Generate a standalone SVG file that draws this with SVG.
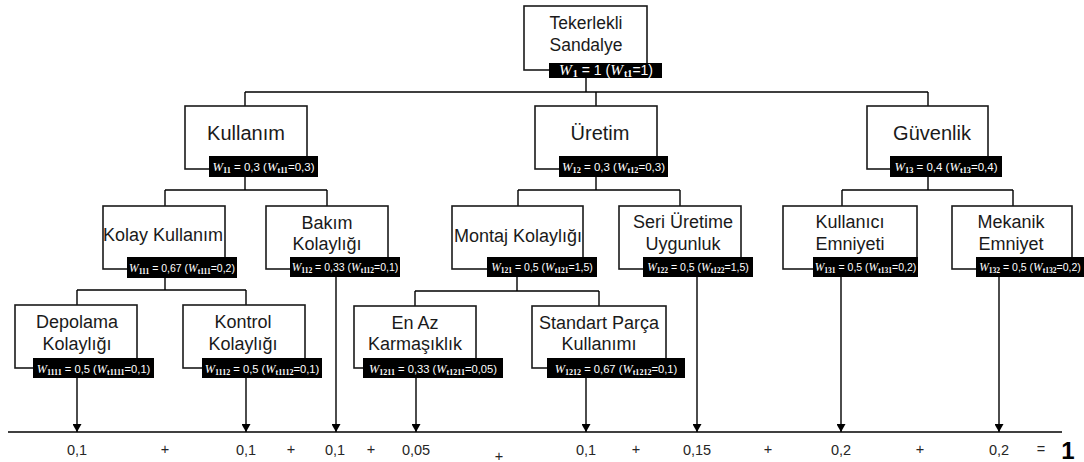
<svg xmlns="http://www.w3.org/2000/svg" width="1084" height="462" viewBox="0 0 1084 462">
<defs>
<marker id="arr" markerUnits="userSpaceOnUse" markerWidth="9" markerHeight="9" refX="8" refY="4.5" orient="auto">
<path d="M0,0 L8,4.5 L0,9 z" fill="#000"/>
</marker>
<style>
.box{fill:#fff;stroke:#1a1a1a;stroke-width:1.6}
.lbl{fill:#000}
.t{font-family:"Liberation Sans",Arial,sans-serif;font-size:18px;fill:#1a1a1a;text-anchor:middle}
.t1{font-size:20px}
.w{font-family:"Liberation Sans",Arial,sans-serif;font-size:10.5px;fill:#fff;text-anchor:middle}
.w0{font-size:14px}
.w1{font-size:11.5px}
.w3{font-size:11.2px}
.i{font-family:"Liberation Serif","Times New Roman",serif;font-style:italic;font-size:1.1em}
.s{font-family:"Liberation Serif","Times New Roman",serif;font-size:0.72em;font-weight:bold}
.c{fill:none;stroke:#000;stroke-width:1.4}
.a{marker-end:url(#arr)}
.n{font-family:"Liberation Sans",Arial,sans-serif;font-size:14.5px;fill:#262626;text-anchor:middle}
</style>
</defs>
<rect width="1084" height="462" fill="#fff"/>

<g id="connectors">
<path class="c" d="M586 77V92M245 92H928M245 92V106M596 92V106M928 92V106"/>
<path class="c" d="M245 177V190M165 190H327M165 190V206M327 190V206"/>
<path class="c" d="M596 177V190M518 190H680M518 190V206M680 190V206"/>
<path class="c" d="M928 177V190M842 190H1013M842 190V206M1013 190V206"/>
<path class="c" d="M165 278V290M77 290H246M77 290V305M246 290V305"/>
<path class="c" d="M517 277V291M415 291H599M415 291V306M599 291V306"/>
<path class="c" d="M8 432H1062"/>
<path class="c a" d="M77 378V432"/>
<path class="c a" d="M246 378V432"/>
<path class="c a" d="M336 277V432"/>
<path class="c a" d="M416 378V432"/>
<path class="c a" d="M586 378V432"/>
<path class="c a" d="M697 277V432"/>
<path class="c a" d="M841 277V432"/>
<path class="c a" d="M999 277V432"/>
</g>

<g id="n0">
<rect class="box" x="524" y="6" width="123" height="64"/>
<text class="t" x="586" y="29" style="font-size:17.5px">Tekerlekli</text>
<text class="t" x="586" y="51" style="font-size:17.5px">Sandalye</text>
<rect class="lbl" x="549" y="63" width="113" height="15"/>
<text class="w w0" x="606" y="74.5"><tspan class="i">W</tspan><tspan class="s" dx="1" dy="2.5">1</tspan><tspan dy="-2.5"> = 1 (</tspan><tspan class="i">W</tspan><tspan class="s" dx="1" dy="2.5">t1</tspan><tspan dy="-2.5">=1)</tspan></text>
</g>

<g id="n1">
<rect class="box" x="185" y="106" width="122" height="63"/>
<text class="t t1" x="246" y="140">Kullanım</text>
<rect class="lbl" x="209" y="156" width="109" height="21"/>
<text class="w w1" x="263.5" y="171"><tspan class="i">W</tspan><tspan class="s" dy="2">11</tspan><tspan dy="-2"> = 0,3 (</tspan><tspan class="i">W</tspan><tspan class="s" dy="2">t11</tspan><tspan dy="-2">=0,3)</tspan></text>
</g>

<g id="n2">
<rect class="box" x="535" y="106" width="122" height="63"/>
<text class="t t1" x="600" y="140">Üretim</text>
<rect class="lbl" x="559" y="156" width="109" height="21"/>
<text class="w w1" x="613.5" y="171"><tspan class="i">W</tspan><tspan class="s" dy="2">12</tspan><tspan dy="-2"> = 0,3 (</tspan><tspan class="i">W</tspan><tspan class="s" dy="2">t12</tspan><tspan dy="-2">=0,3)</tspan></text>
</g>

<g id="n3">
<rect class="box" x="867" y="106" width="121" height="63"/>
<text class="t t1" x="932" y="140">Güvenlik</text>
<rect class="lbl" x="890" y="156" width="112" height="21"/>
<text class="w w1" x="946" y="171"><tspan class="i">W</tspan><tspan class="s" dy="2">13</tspan><tspan dy="-2"> = 0,4 (</tspan><tspan class="i">W</tspan><tspan class="s" dy="2">t13</tspan><tspan dy="-2">=0,4)</tspan></text>
</g>

<g id="n11">
<rect class="box" x="103" y="206" width="122" height="63"/>
<text class="t" x="163" y="241">Kolay Kullanım</text>
<rect class="lbl" x="127" y="257" width="110" height="21"/>
<text class="w" x="182" y="271.5"><tspan class="i">W</tspan><tspan class="s" dy="2">111</tspan><tspan dy="-2"> = 0,67 (</tspan><tspan class="i">W</tspan><tspan class="s" dy="2">t111</tspan><tspan dy="-2">=0,2)</tspan></text>
</g>

<g id="n12">
<rect class="box" x="266" y="206" width="122" height="63"/>
<text class="t" x="327" y="229">Bakım</text>
<text class="t" x="327" y="250">Kolaylığı</text>
<rect class="lbl" x="290" y="257" width="110" height="20"/>
<text class="w" x="345" y="271"><tspan class="i">W</tspan><tspan class="s" dy="2">112</tspan><tspan dy="-2"> = 0,33 (</tspan><tspan class="i">W</tspan><tspan class="s" dy="2">t112</tspan><tspan dy="-2">=0,1)</tspan></text>
</g>

<g id="n21">
<rect class="box" x="452" y="206" width="131" height="63"/>
<text class="t" x="518" y="242">Montaj Kolaylığı</text>
<rect class="lbl" x="487" y="257" width="110" height="20"/>
<text class="w" x="542" y="271"><tspan class="i">W</tspan><tspan class="s" dy="2">121</tspan><tspan dy="-2"> = 0,5 (</tspan><tspan class="i">W</tspan><tspan class="s" dy="2">t121</tspan><tspan dy="-2">=1,5)</tspan></text>
</g>

<g id="n22">
<rect class="box" x="619" y="206" width="122" height="63"/>
<text class="t" x="683" y="228">Seri Üretime</text>
<text class="t" x="683" y="250">Uygunluk</text>
<rect class="lbl" x="643" y="257" width="110" height="20"/>
<text class="w" x="698" y="271"><tspan class="i">W</tspan><tspan class="s" dy="2">122</tspan><tspan dy="-2"> = 0,5 (</tspan><tspan class="i">W</tspan><tspan class="s" dy="2">t122</tspan><tspan dy="-2">=1,5)</tspan></text>
</g>

<g id="n31">
<rect class="box" x="783" y="206" width="134" height="63"/>
<text class="t" x="850" y="228">Kullanıcı</text>
<text class="t" x="850" y="250">Emniyeti</text>
<rect class="lbl" x="813" y="257" width="105" height="20"/>
<text class="w" x="865.5" y="271"><tspan class="i">W</tspan><tspan class="s" dy="2">131</tspan><tspan dy="-2"> = 0,5 (</tspan><tspan class="i">W</tspan><tspan class="s" dy="2">t131</tspan><tspan dy="-2">=0,2)</tspan></text>
</g>

<g id="n32">
<rect class="box" x="952" y="206" width="120" height="63"/>
<text class="t" x="1011" y="228">Mekanik</text>
<text class="t" x="1011" y="250">Emniyet</text>
<rect class="lbl" x="976" y="257" width="108" height="20"/>
<text class="w" x="1030" y="271"><tspan class="i">W</tspan><tspan class="s" dy="2">132</tspan><tspan dy="-2"> = 0,5 (</tspan><tspan class="i">W</tspan><tspan class="s" dy="2">t132</tspan><tspan dy="-2">=0,2)</tspan></text>
</g>

<g id="n111">
<rect class="box" x="15" y="305" width="122" height="63"/>
<text class="t" x="77" y="328">Depolama</text>
<text class="t" x="77" y="350">Kolaylığı</text>
<rect class="lbl" x="33" y="358" width="121" height="20"/>
<text class="w w3" x="93.5" y="372.5"><tspan class="i">W</tspan><tspan class="s" dy="2">1111</tspan><tspan dy="-2"> = 0,5 (</tspan><tspan class="i">W</tspan><tspan class="s" dy="2">t1111</tspan><tspan dy="-2">=0,1)</tspan></text>
</g>

<g id="n112">
<rect class="box" x="183" y="305" width="122" height="63"/>
<text class="t" x="243" y="328">Kontrol</text>
<text class="t" x="243" y="350">Kolaylığı</text>
<rect class="lbl" x="202" y="358" width="120" height="20"/>
<text class="w w3" x="262" y="372.5"><tspan class="i">W</tspan><tspan class="s" dy="2">1112</tspan><tspan dy="-2"> = 0,5 (</tspan><tspan class="i">W</tspan><tspan class="s" dy="2">t1112</tspan><tspan dy="-2">=0,1)</tspan></text>
</g>

<g id="n211">
<rect class="box" x="354" y="306" width="122" height="62"/>
<text class="t" x="415" y="329">En Az</text>
<text class="t" x="415" y="350">Karmaşıklık</text>
<rect class="lbl" x="363" y="358" width="140" height="20"/>
<text class="w w3" x="433" y="372.5"><tspan class="i">W</tspan><tspan class="s" dy="2">1211</tspan><tspan dy="-2"> = 0,33 (</tspan><tspan class="i">W</tspan><tspan class="s" dy="2">t1211</tspan><tspan dy="-2">=0,05)</tspan></text>
</g>

<g id="n212">
<rect class="box" x="532" y="306" width="134" height="62"/>
<text class="t" x="599" y="329">Standart Parça</text>
<text class="t" x="599" y="350">Kullanımı</text>
<rect class="lbl" x="547" y="358" width="138" height="20"/>
<text class="w w3" x="616" y="372.5"><tspan class="i">W</tspan><tspan class="s" dy="2">1212</tspan><tspan dy="-2"> = 0,67 (</tspan><tspan class="i">W</tspan><tspan class="s" dy="2">t1212</tspan><tspan dy="-2">=0,1)</tspan></text>
</g>

<g id="sum">
<text class="n" x="77" y="455">0,1</text>
<text class="n" x="165" y="454">+</text>
<text class="n" x="246" y="455">0,1</text>
<text class="n" x="291" y="454">+</text>
<text class="n" x="335" y="455">0,1</text>
<text class="n" x="371" y="454">+</text>
<text class="n" x="416" y="455">0,05</text>
<text class="n" x="499" y="461">+</text>
<text class="n" x="586" y="455">0,1</text>
<text class="n" x="636" y="454">+</text>
<text class="n" x="697" y="455">0,15</text>
<text class="n" x="768" y="454">+</text>
<text class="n" x="841" y="455">0,2</text>
<text class="n" x="920" y="454">+</text>
<text class="n" x="999" y="455">0,2</text>
<text class="n" x="1041" y="454">=</text>
<text class="n" x="1068" y="459" style="font-size:24px;font-weight:bold;fill:#000">1</text>
</g>
</svg>
